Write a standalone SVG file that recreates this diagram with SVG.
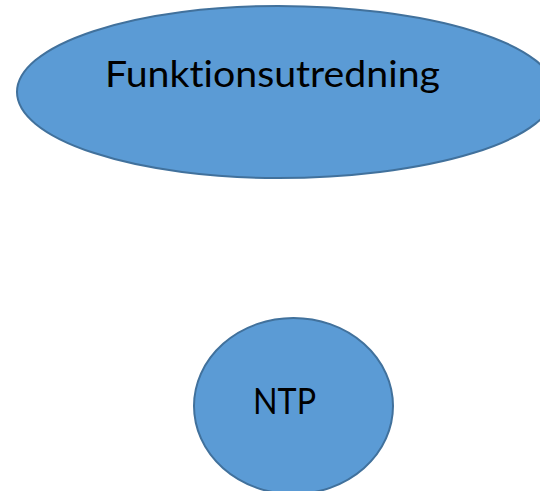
<svg xmlns="http://www.w3.org/2000/svg" width="540" height="491" viewBox="0 0 540 491">
<style>
.n{fill:#5B9BD5;stroke:#41719C;stroke-width:2}
.t{font-family:Lato,"Open Sans",sans-serif;font-size:37px;fill:#000;text-anchor:middle;font-variant-ligatures:none}
</style>
<rect width="540" height="491" fill="#fff"/>
<g id="connectors"></g>
<g id="funktionsutredning">
<path class="n" d="M17 92 A261 86 0 0 1 278 6 A277 86 0 0 1 555 92 A277 86 0 0 1 278 178 A261 86 0 0 1 17 92 Z"/>
<text class="t" x="272.5" y="87" textLength="335" lengthAdjust="spacingAndGlyphs">Funktionsutredning</text>
</g>
<g id="ntp">
<ellipse class="n" cx="293.5" cy="406" rx="99.5" ry="88"/>
<text class="t" x="284.5" y="414" textLength="63" lengthAdjust="spacingAndGlyphs">NTP</text>
</g>
</svg>
